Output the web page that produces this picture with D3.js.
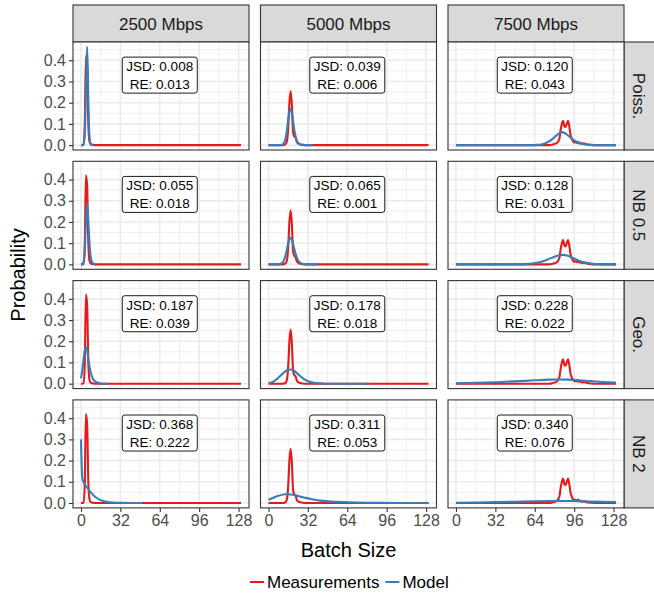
<!DOCTYPE html>
<html>
<head>
<meta charset="utf-8">
<script src="https://cdn.jsdelivr.net/npm/d3@7"></script>
<style>
  body { margin: 0; background: #fff; }
  svg { display: block; font-family: "Liberation Sans", Arial, sans-serif; }
</style>
</head>
<body>
<svg id="chart" width="654" height="595"></svg>
<script>
// facet labels
const rates = ["2500 Mbps", "5000 Mbps", "7500 Mbps"];
const models = ["Poiss.", "NB 0.5", "Geo.", "NB 2"];

// measured batch size distributions (same in every row)
const meas2500 = [[0,0],[1,0],[2,0.002],[3,0.08],[4,0.42],[5,0.37],[6,0.09],[7,0.015],[8,0.004],[10,0.001],[12,0],[130,0]];
const meas5000 = [[0,0],[12,0],[14,0.005],[15,0.02],[16,0.08],[17,0.2],[18,0.255],[19,0.19],[20,0.06],[21,0.04],[22,0.035],[23,0.015],[24,0.008],[26,0.003],[28,0.001],[30,0],[130,0]];
const meas7500 = [[0,0],[76,0],[78,0.002],[80,0.005],[82,0.01],[84,0.03],[85,0.07],[86,0.1],[87,0.115],[88,0.09],[89,0.085],[90,0.1],[91,0.115],[92,0.09],[93,0.05],[94,0.03],[95,0.02],[96,0.012],[97,0.015],[98,0.01],[99,0.016],[100,0.008],[101,0.012],[102,0.006],[104,0.008],[106,0.004],[108,0.002],[110,0.001],[114,0],[130,0]];
const measured = [meas2500, meas5000, meas7500];

// model distributions, one row per model, one entry per rate
const poisson = [
  [[0,0],[1,0],[2,0.005],[3,0.05],[4,0.25],[5,0.463],[6,0.2],[7,0.03],[8,0.003],[9,0],[10,0]],
  [[0,0],[10,0],[12,0.005],[13,0.015],[14,0.035],[15,0.07],[16,0.12],[17,0.16],[18,0.17],[19,0.15],[20,0.11],[21,0.07],[22,0.04],[23,0.02],[24,0.01],[26,0.003],[28,0.001],[30,0],[36,0]],
  [[0,0],[60,0],[66,0.001],[70,0.004],[74,0.012],[78,0.027],[81,0.042],[84,0.056],[86,0.061],[88,0.058],[90,0.05],[93,0.036],[96,0.022],[100,0.01],[104,0.004],[108,0.001],[114,0],[130,0]]
];
const nbHalf = [
  [[0,0],[1,0.001],[2,0.01],[3,0.06],[4,0.2],[5,0.285],[6,0.2],[7,0.09],[8,0.03],[9,0.01],[10,0.003],[12,0]],
  [[0,0],[8,0],[10,0.003],[12,0.012],[14,0.045],[16,0.1],[17,0.12],[18,0.125],[19,0.115],[20,0.095],[22,0.05],[24,0.02],[26,0.007],[28,0.002],[32,0],[40,0]],
  [[0,0],[50,0],[56,0.001],[62,0.004],[68,0.01],[74,0.022],[80,0.036],[84,0.043],[87,0.045],[90,0.042],[94,0.033],[98,0.022],[104,0.01],[110,0.004],[116,0.001],[124,0],[130,0]]
];
const geo = [
  [[0,0.025],[1,0.06],[2,0.11],[3,0.155],[4,0.172],[5,0.155],[6,0.115],[7,0.078],[8,0.05],[10,0.02],[12,0.008],[15,0.002],[18,0],[22,0]],
  [[0,0.003],[4,0.01],[8,0.028],[12,0.05],[15,0.063],[18,0.067],[21,0.06],[24,0.045],[27,0.03],[30,0.018],[34,0.008],[38,0.003],[44,0.001],[50,0],[82,0]],
  [[0,0.002],[16,0.004],[32,0.007],[48,0.011],[64,0.016],[76,0.019],[84,0.02],[92,0.019],[100,0.016],[110,0.012],[120,0.008],[130,0.005]]
];
const nbTwo = [
  [[0,0.3],[1,0.12],[2,0.1],[4,0.08],[6,0.065],[8,0.05],[10,0.037],[12,0.027],[15,0.016],[18,0.009],[22,0.004],[26,0.002],[32,0.001],[40,0],[50,0]],
  [[0,0.015],[4,0.025],[8,0.034],[12,0.04],[15,0.041],[18,0.04],[22,0.036],[26,0.03],[30,0.024],[36,0.017],[42,0.011],[50,0.007],[60,0.004],[72,0.002],[90,0.001],[110,0],[130,0]],
  [[0,0.001],[16,0.002],[32,0.004],[48,0.006],[64,0.008],[76,0.009],[86,0.0095],[96,0.009],[108,0.007],[120,0.005],[130,0.004]]
];
const modelled = [poisson, nbHalf, geo, nbTwo];

// fit metrics per row / column
const jsd = [["0.008","0.039","0.120"],["0.055","0.065","0.128"],["0.187","0.178","0.228"],["0.368","0.311","0.340"]];
const re  = [["0.013","0.006","0.043"],["0.018","0.001","0.031"],["0.039","0.018","0.022"],["0.222","0.053","0.076"]];

const xTicks = [0, 32, 64, 96, 128];
const xMinor = [16, 48, 80, 112];
const yTicks = [0, 0.1, 0.2, 0.3, 0.4];
const yMinor = [0.05, 0.15, 0.25, 0.35, 0.45];

const RED = "#E41A1C", BLUE = "#377EB8";

const svg = d3.select("#chart");

// layout
const left0 = 73, top0 = 42, pw = 176, ph = 108, gapX = 11.5, gapY = 11.3;
const stripTop = 5, stripRight = 30;

const x = d3.scaleLinear().domain([-6.5, 136.5]).range([0, pw]);
const y = d3.scaleLinear().domain([-0.0232, 0.4862]).range([ph, 0]);

const line = d3.line()
  .x(d => x(d[0]))
  .y(d => y(d[1]))
  .curve(d3.curveMonotoneX);

rates.forEach((rate, c) => {
  const px = left0 + c * (pw + gapX);
  // top strip
  const s = svg.append("g").attr("transform", `translate(${px},${stripTop})`);
  s.append("rect").attr("width", pw).attr("height", top0 - stripTop)
    .attr("fill", "#d9d9d9").attr("stroke", "#333").attr("stroke-width", 1.1);
  s.append("text").attr("x", pw / 2).attr("y", (top0 - stripTop) / 2 + 6)
    .attr("text-anchor", "middle").attr("font-size", 17).attr("fill", "#1a1a1a")
    .text(rate);
});

models.forEach((model, r) => {
  const py = top0 + r * (ph + gapY);
  const sx = left0 + 3 * pw + 2 * gapX;
  const s = svg.append("g").attr("transform", `translate(${sx},${py})`);
  s.append("rect").attr("width", stripRight + 4).attr("height", ph)
    .attr("fill", "#d9d9d9").attr("stroke", "#333").attr("stroke-width", 1.1);
  s.append("text")
    .attr("transform", `translate(${stripRight / 2 - 6},${ph / 2}) rotate(90)`)
    .attr("text-anchor", "middle").attr("font-size", 17).attr("fill", "#1a1a1a")
    .text(model);

  rates.forEach((rate, c) => {
    const px = left0 + c * (pw + gapX);
    const g = svg.append("g").attr("transform", `translate(${px},${py})`);

    g.append("rect").attr("width", pw).attr("height", ph).attr("fill", "#fff");

    // grid
    g.selectAll(".vmin").data(xMinor).join("line")
      .attr("x1", d => x(d)).attr("x2", d => x(d)).attr("y1", 0).attr("y2", ph)
      .attr("stroke", "#ebebeb").attr("stroke-width", 0.8);
    g.selectAll(".hmin").data(yMinor).join("line")
      .attr("y1", d => y(d)).attr("y2", d => y(d)).attr("x1", 0).attr("x2", pw)
      .attr("stroke", "#ebebeb").attr("stroke-width", 0.8);
    g.selectAll(".vmaj").data(xTicks).join("line")
      .attr("x1", d => x(d)).attr("x2", d => x(d)).attr("y1", 0).attr("y2", ph)
      .attr("stroke", "#ebebeb").attr("stroke-width", 1.6);
    g.selectAll(".hmaj").data(yTicks).join("line")
      .attr("y1", d => y(d)).attr("y2", d => y(d)).attr("x1", 0).attr("x2", pw)
      .attr("stroke", "#ebebeb").attr("stroke-width", 1.6);

    // curves
    g.append("path").datum(measured[c]).attr("d", line)
      .attr("fill", "none").attr("stroke", RED).attr("stroke-width", 2.1)
      .attr("stroke-linejoin", "round");
    g.append("path").datum(modelled[r][c]).attr("d", line)
      .attr("fill", "none").attr("stroke", BLUE).attr("stroke-width", 2.1)
      .attr("stroke-linejoin", "round");

    // metrics label
    const lx = x(64), ly = y(0.33);
    g.append("rect").attr("x", lx - 37.5).attr("y", ly - 18).attr("width", 75).attr("height", 36)
      .attr("rx", 2.5).attr("fill", "#fff").attr("stroke", "#000").attr("stroke-width", 0.9);
    g.append("text").attr("x", lx).attr("y", ly - 4).attr("text-anchor", "middle")
      .attr("font-size", 13.5).attr("fill", "#000").text(`JSD: ${jsd[r][c]}`);
    g.append("text").attr("x", lx).attr("y", ly + 14).attr("text-anchor", "middle")
      .attr("font-size", 13.5).attr("fill", "#000").text(`RE: ${re[r][c]}`);

    g.append("rect").attr("width", pw).attr("height", ph)
      .attr("fill", "none").attr("stroke", "#333").attr("stroke-width", 1.1);

    // axes
    if (c === 0) {
      const ay = g.append("g").call(d3.axisLeft(y).tickValues(yTicks).tickFormat(d3.format(".1f")).tickSize(4).tickPadding(3));
      ay.select(".domain").remove();
      ay.selectAll("line").attr("stroke", "#333").attr("stroke-width", 1.1);
      ay.selectAll("text").attr("font-size", 16).attr("fill", "#4d4d4d").attr("font-family", "Liberation Sans, Arial, sans-serif");
    }
    if (r === models.length - 1) {
      const ax = g.append("g").attr("transform", `translate(0,${ph})`)
        .call(d3.axisBottom(x).tickValues(xTicks).tickSize(4).tickPadding(3));
      ax.select(".domain").remove();
      ax.selectAll("line").attr("stroke", "#333").attr("stroke-width", 1.1);
      ax.selectAll("text").attr("font-size", 16).attr("fill", "#4d4d4d").attr("font-family", "Liberation Sans, Arial, sans-serif");
    }
  });
});

// axis titles
const plotMidX = left0 + (3 * pw + 2 * gapX) / 2;
const plotMidY = top0 + (4 * ph + 3 * gapY) / 2;
svg.append("text").attr("x", plotMidX).attr("y", 557).attr("text-anchor", "middle")
  .attr("font-size", 20).attr("fill", "#000").text("Batch Size");
svg.append("text").attr("transform", `translate(25,${plotMidY}) rotate(-90)`)
  .attr("text-anchor", "middle").attr("font-size", 20).attr("fill", "#000").text("Probability");

// legend
const legend = [["Measurements", RED], ["Model", BLUE]];
const lg = svg.append("g").attr("transform", "translate(250,582)");
let lxPos = 0;
legend.forEach(([name, col]) => {
  lg.append("line").attr("x1", lxPos).attr("x2", lxPos + 14).attr("y1", 0).attr("y2", 0)
    .attr("stroke", col).attr("stroke-width", 2);
  const t = lg.append("text").attr("x", lxPos + 17).attr("y", 6).attr("font-size", 17)
    .attr("fill", "#000").text(name);
  lxPos += 17 + t.node().getComputedTextLength() + 6;
});
</script>
</body>
</html>
